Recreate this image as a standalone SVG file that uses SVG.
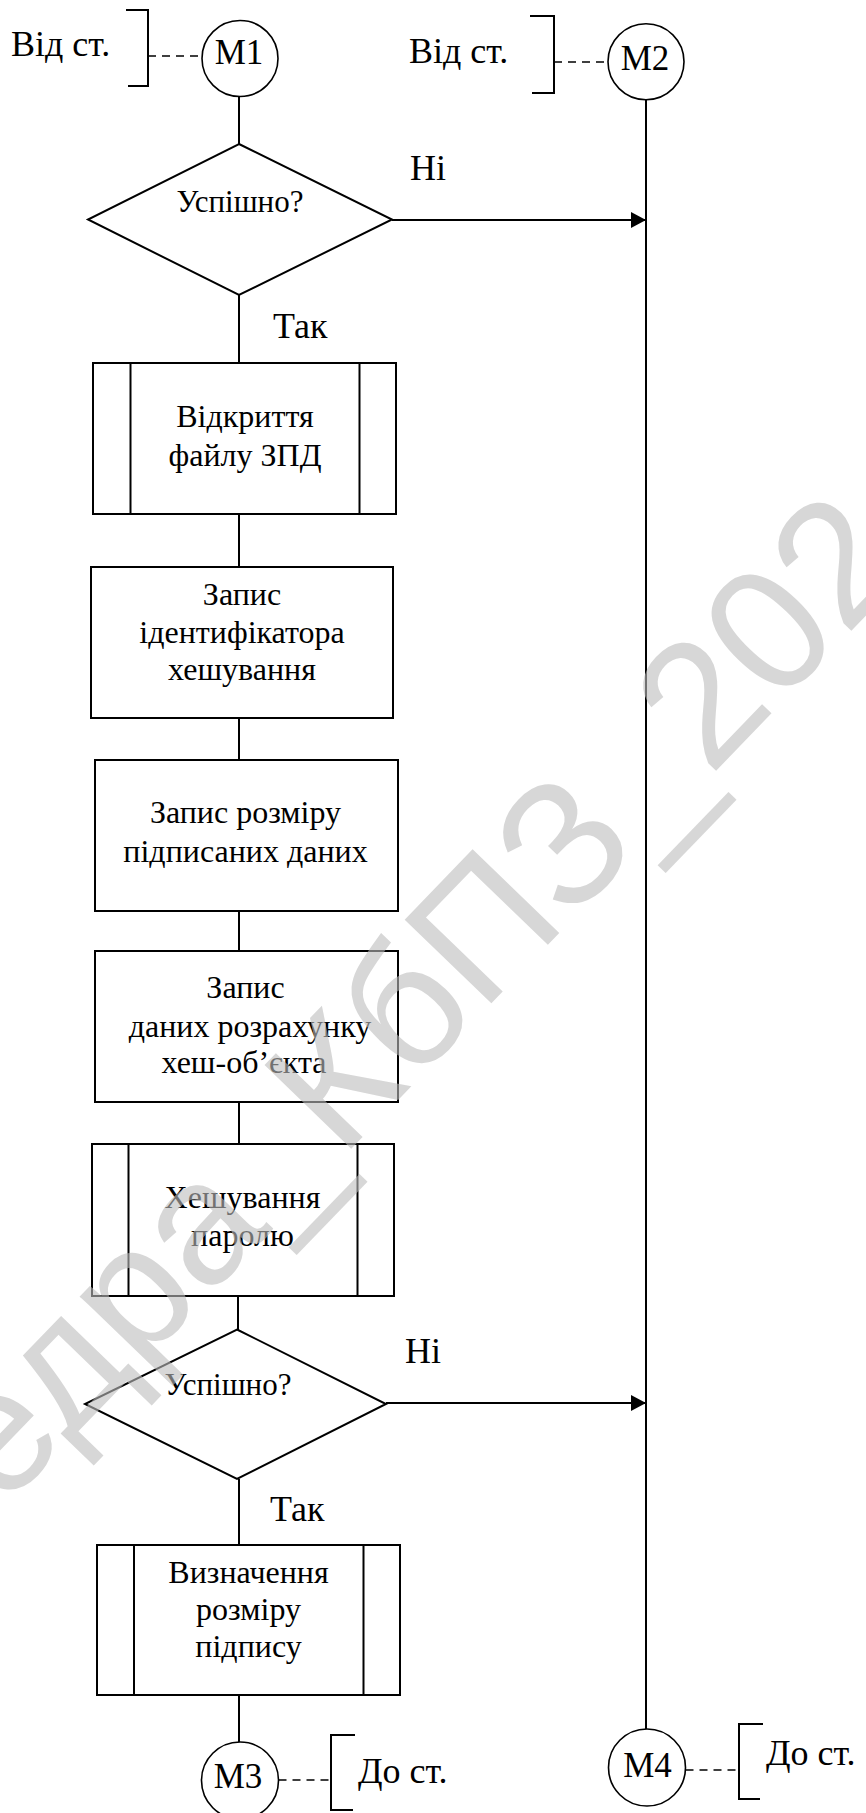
<svg xmlns="http://www.w3.org/2000/svg" width="866" height="1813" viewBox="0 0 866 1813" font-family="'Liberation Serif', 'Times New Roman', 'DejaVu Serif', serif">
  <defs>
    <marker id="arrow" markerWidth="16" markerHeight="16" refX="15" refY="8" orient="auto" markerUnits="userSpaceOnUse">
      <path d="M0,0 L15,8 L0,16 Z" fill="#000"/>
    </marker>
    <style>
      .ln { stroke: #000; stroke-width: 2; fill: none; }
      .shape { stroke: #000; stroke-width: 2; fill: #fff; }
      .circ { stroke: #000; stroke-width: 1.6; fill: #fff; }
      .dash { stroke: #000; stroke-width: 1.6; fill: none; stroke-dasharray: 8 6; }
      .br { stroke: #000; stroke-width: 2; fill: none; }
      .t { fill: #000; }
      .box { font-size: 32px; text-anchor: middle; }
      .lbl { font-size: 36px; }
      .q { font-size: 31px; text-anchor: middle; }
      .mk { font-size: 35px; text-anchor: middle; }
      .wm { font-size: 175px; fill: #bdbdbd; }
    </style>
  </defs>

  <!-- connectors -->
  <g id="connectors">
    <line class="ln" x1="239" y1="92" x2="239" y2="144"/>
    <line class="ln" x1="239" y1="295" x2="239" y2="363"/>
    <line class="ln" x1="239" y1="514" x2="239" y2="567"/>
    <line class="ln" x1="239" y1="718" x2="239" y2="760"/>
    <line class="ln" x1="239" y1="911" x2="239" y2="951"/>
    <line class="ln" x1="239" y1="1102" x2="239" y2="1144"/>
    <line class="ln" x1="238" y1="1296" x2="238" y2="1330"/>
    <line class="ln" x1="239" y1="1479" x2="239" y2="1545"/>
    <line class="ln" x1="239" y1="1695" x2="239" y2="1742"/>
    <line class="ln" x1="646" y1="100" x2="646" y2="1729"/>
    <line class="ln" x1="392" y1="220" x2="646" y2="220" marker-end="url(#arrow)"/>
    <line class="ln" x1="386" y1="1403" x2="646" y2="1403" marker-end="url(#arrow)"/>
    <text class="t lbl" x="410" y="180">Ні</text>
    <text class="t lbl" x="273" y="338">Так</text>
    <text class="t lbl" x="405" y="1363">Ні</text>
    <text class="t lbl" x="270" y="1521">Так</text>
  </g>

  <!-- off-page connector M1 -->
  <g id="m1">
    <path class="br" d="M126,10 H148 V86 H128"/>
    <line class="dash" x1="148" y1="56" x2="202" y2="56"/>
    <text class="t lbl" x="11" y="55.5">Від ст.</text>
    <circle class="circ" cx="240" cy="58.5" r="38"/>
    <text class="t mk" x="239" y="63.5">М1</text>
  </g>

  <!-- off-page connector M2 -->
  <g id="m2">
    <path class="br" d="M530,16 H554 V93 H532"/>
    <line class="dash" x1="554" y1="62" x2="607" y2="62"/>
    <text class="t lbl" x="409" y="63">Від ст.</text>
    <circle class="circ" cx="646" cy="61.7" r="38"/>
    <text class="t mk" x="645" y="70">М2</text>
  </g>

  <!-- decision 1 -->
  <g id="dec1">
    <polygon class="shape" points="239,144 392,219.5 239,295 88,219.5"/>
    <text class="t q" x="240" y="211.5">Успішно?</text>
  </g>

  <!-- subroutine: open file -->
  <g id="open-file">
    <rect class="shape" x="93" y="363" width="303" height="151"/>
    <line class="ln" x1="130.5" y1="363" x2="130.5" y2="514"/>
    <line class="ln" x1="359.5" y1="363" x2="359.5" y2="514"/>
    <text class="t box" x="245" y="427">Відкриття</text>
    <text class="t box" x="245" y="465.5">файлу ЗПД</text>
  </g>

  <!-- process: hash id -->
  <g id="write-hash-id">
    <rect class="shape" x="91" y="567" width="302" height="151"/>
    <text class="t box" x="242" y="605">Запис</text>
    <text class="t box" x="242" y="642.5">ідентифікатора</text>
    <text class="t box" x="242" y="679.5">хешування</text>
  </g>

  <!-- process: signed data size -->
  <g id="write-size">
    <rect class="shape" x="95" y="760" width="303" height="151"/>
    <text class="t box" x="245.5" y="823">Запис розміру</text>
    <text class="t box" x="245.5" y="861.5">підписаних даних</text>
  </g>

  <!-- process: hash object data -->
  <g id="write-hash-data">
    <rect class="shape" x="95" y="951" width="303" height="151"/>
    <text class="t box" x="245.5" y="998">Запис</text>
    <text class="t box" x="250" y="1036.5">даних розрахунку</text>
    <text class="t box" x="244" y="1072.5">хеш-об’єкта</text>
  </g>

  <!-- subroutine: password hashing -->
  <g id="hash-password">
    <rect class="shape" x="92" y="1144" width="302" height="152"/>
    <line class="ln" x1="128.5" y1="1144" x2="128.5" y2="1296"/>
    <line class="ln" x1="357.5" y1="1144" x2="357.5" y2="1296"/>
    <text class="t box" x="242.5" y="1208">Хешування</text>
    <text class="t box" x="242.5" y="1245.5">паролю</text>
  </g>

  <!-- decision 2 -->
  <g id="dec2">
    <polygon class="shape" points="237,1329.5 386,1404 237,1479 85,1404"/>
    <text class="t q" x="228" y="1395">Успішно?</text>
  </g>

  <!-- subroutine: signature size -->
  <g id="sig-size">
    <rect class="shape" x="97" y="1545" width="303" height="150"/>
    <line class="ln" x1="134" y1="1545" x2="134" y2="1695"/>
    <line class="ln" x1="363.5" y1="1545" x2="363.5" y2="1695"/>
    <text class="t box" x="248.5" y="1583">Визначення</text>
    <text class="t box" x="248.5" y="1620">розміру</text>
    <text class="t box" x="248.5" y="1657">підпису</text>
  </g>

  <!-- off-page connector M3 -->
  <g id="m3">
    <circle class="circ" cx="240" cy="1780.5" r="38.5"/>
    <text class="t mk" x="238" y="1788">М3</text>
    <line class="dash" x1="278.5" y1="1780" x2="330" y2="1780"/>
    <path class="br" d="M355,1735 H331 V1810 H353"/>
    <text class="t lbl" x="358" y="1783">До ст.</text>
  </g>

  <!-- off-page connector M4 -->
  <g id="m4">
    <circle class="circ" cx="647" cy="1767.5" r="38.5"/>
    <text class="t mk" x="647.5" y="1776.5">М4</text>
    <line class="dash" x1="685.5" y1="1770" x2="739" y2="1770"/>
    <path class="br" d="M763,1724 H739 V1799 H760"/>
    <text class="t lbl" x="766" y="1765">До ст.</text>
  </g>

  <!-- page watermark -->
  <g id="watermark" class="wm" font-family="'Liberation Sans', Arial, sans-serif" opacity="0.6" transform="translate(710,777) rotate(-46)">
    <text text-anchor="end">Кафедра_КбПЗ_</text>
    <text>2024</text>
  </g>
</svg>
